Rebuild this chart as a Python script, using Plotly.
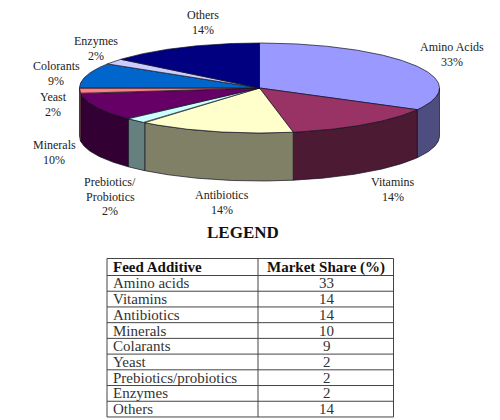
import numpy as np
import plotly.graph_objects as go

# Data, in table order
additives = ["Amino acids", "Vitamins", "Antibiotics", "Minerals", "Colarants", "Yeast",
             "Prebiotics/probiotics", "Enzymes", "Others"]
shares = [33, 14, 14, 10, 9, 2, 2, 2, 14]
table_headers = ["Feed Additive", "Market Share (%)"]

# Pie order, clockwise from 12 o'clock
pie_names = ["Amino Acids", "Vitamins", "Antibiotics", "Prebiotics/<br>Probiotics", "Minerals",
             "Yeast", "Colorants", "Enzymes", "Others"]
pie_values = [33, 14, 14, 2, 10, 2, 9, 2, 14]
top_colors = ["#9999FF", "#993366", "#FFFFCC", "#CCFFFF", "#660066", "#FF8080", "#0066CC", "#CCCCFF", "#000080"]
side_colors = ["#4D4D80", "#4D1A33", "#808066", "#668080", "#330033", "#804040", "#003366", "#666680", "#000040"]
label_x = [452, 393, 222, 110, 54, 53, 56, 96, 203]
label_y = [47, 182, 195, 182, 145, 97, 66, 41, 15]

# Geometry, in page pixels
CX, CY, RX, RY, DEPTH = 259.5, 88, 180, 45, 48
T_L, T_M, T_R, T_TOP, T_HEAD, T_ROW = 107, 258, 393.5, 258.5, 17, 15.72
W, H = 500, 420

fig = go.Figure()

def arc(a0, a1):
    t = np.radians(np.linspace(a0, a1, max(int(abs(a1 - a0)) * 2, 2)))
    return CX + RX * np.sin(t), CY - RY * np.cos(t)

def poly(x, y, color):
    fig.add_trace(go.Scatter(x=list(x) + [x[0]], y=list(y) + [y[0]], mode="lines", fill="toself",
                             fillcolor=color, line=dict(color="#101020", width=0.7),
                             hoverinfo="skip", showlegend=False))

edges = np.concatenate([[0], np.cumsum(pie_values)]) * 360.0 / sum(pie_values)

# side walls
for i in range(len(pie_values)):
    a0, a1 = max(edges[i], 90), min(edges[i + 1], 270)
    if a1 > a0:
        x, y = arc(a0, a1)
        poly(np.concatenate([x, x[::-1]]), np.concatenate([y, y[::-1] + DEPTH]), side_colors[i])

# top faces
for i in range(len(pie_values)):
    x, y = arc(edges[i], edges[i + 1])
    poly(np.concatenate([[CX], x]), np.concatenate([[CY], y]), top_colors[i])

# slice labels
ann = []
for name, v, lx, ly in zip(pie_names, pie_values, label_x, label_y):
    lines = name.split("<br>") + [f"{v}%"]
    for k, s in enumerate(lines):
        ann.append(dict(x=lx, y=ly + k * 14.5, text=s, showarrow=False, xanchor="center", yanchor="middle",
                        font=dict(family="Liberation Serif", size=12, color="#222222")))
ann.append(dict(x=243, y=232, text="<b>LEGEND</b>", showarrow=False, xanchor="center", yanchor="middle",
                font=dict(family="Liberation Serif", size=17, color="#111111")))

# table grid
n = len(additives)
row_lines = [T_TOP, T_TOP + T_HEAD] + [T_TOP + T_HEAD + (k + 1) * T_ROW for k in range(n)]
T_BOT = row_lines[-1]
shapes = []
for y in row_lines:
    shapes.append(dict(type="line", x0=T_L, x1=T_R, y0=y, y1=y, xref="x", yref="y",
                       line=dict(color="#444444", width=1)))
for x in (T_L, T_M, T_R):
    shapes.append(dict(type="line", x0=x, x1=x, y0=T_TOP, y1=T_BOT, xref="x", yref="y",
                       line=dict(color="#444444", width=1)))

# table text
row_mid = [(row_lines[k] + row_lines[k + 1]) / 2 for k in range(n + 1)]
hf = dict(family="Liberation Serif", size=15, color="#111111")
cf = dict(family="Liberation Serif", size=15, color="#333333")
ann.append(dict(x=T_L + 4, y=row_mid[0], text=f"<b>{table_headers[0]}</b>", showarrow=False,
                xanchor="left", yanchor="middle", font=hf))
ann.append(dict(x=(T_M + T_R) / 2, y=row_mid[0], text=f"<b>{table_headers[1]}</b>", showarrow=False,
                xanchor="center", yanchor="middle", font=hf))
for k in range(n):
    ann.append(dict(x=T_L + 4, y=row_mid[k + 1], text=additives[k], showarrow=False,
                    xanchor="left", yanchor="middle", font=cf))
    ann.append(dict(x=(T_M + T_R) / 2 + 1, y=row_mid[k + 1], text=str(shares[k]), showarrow=False,
                    xanchor="center", yanchor="middle", font=cf))

fig.update_layout(
    width=W, height=H, margin=dict(l=0, r=0, t=0, b=0), paper_bgcolor="white", plot_bgcolor="white",
    showlegend=False, annotations=ann, shapes=shapes,
    xaxis=dict(range=[0, W], visible=False, fixedrange=True),
    yaxis=dict(range=[H, 0], visible=False, fixedrange=True),
)
fig.write_html("out.html", config=dict(displayModeBar=False),
               post_script="document.body.style.margin='0';document.documentElement.style.overflow='hidden';")
